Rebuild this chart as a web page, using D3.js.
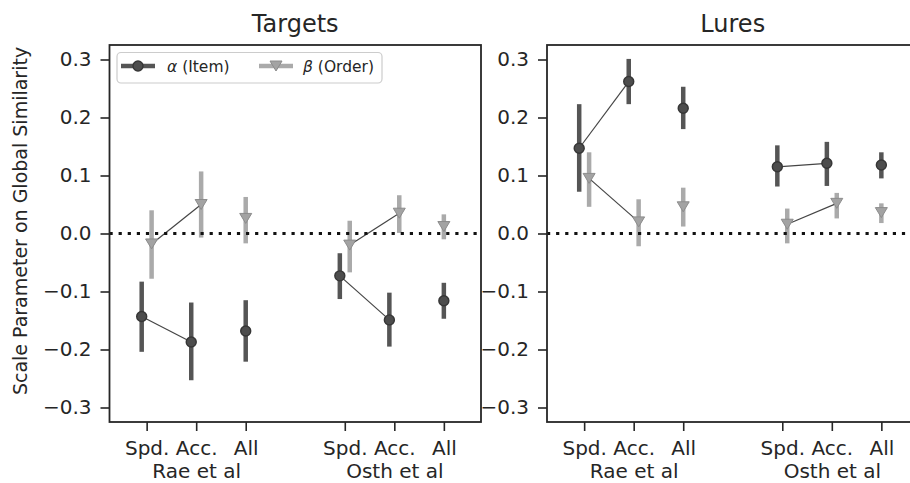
<!DOCTYPE html>
<html>
<head>
<meta charset="utf-8">
<script src="https://cdn.jsdelivr.net/npm/d3@7"></script>
<style>
  body { margin: 0; background: #ffffff; }
  svg { display: block; font-family: "DejaVu Sans", sans-serif; }
</style>
</head>
<body>
<svg id="chart" width="910" height="483"></svg>
<script>
// ---- data ---------------------------------------------------------------
const panelTitles = ["Targets", "Lures"];
const studies = ["Rae et al", "Osth et al"];
const conditions = ["Spd.", "Acc.", "All"];
const yTicks = [-0.3, -0.2, -0.1, 0.0, 0.1, 0.2, 0.3];
const seriesSymbols = ["α", "β"];
const seriesNames = ["(Item)", "(Order)"];

// order of cells: Rae Spd, Rae Acc, Rae All, Osth Spd, Osth Acc, Osth All
const targetsItemMean  = [-0.143, -0.187, -0.168, -0.073, -0.149, -0.116];
const targetsItemLow   = [-0.204, -0.253, -0.221, -0.113, -0.195, -0.147];
const targetsItemHigh  = [-0.083, -0.119, -0.115, -0.034, -0.102, -0.085];
const targetsOrderMean = [-0.018,  0.050,  0.026, -0.020,  0.035,  0.012];
const targetsOrderLow  = [-0.078, -0.007, -0.017, -0.067,  0.001, -0.010];
const targetsOrderHigh = [ 0.040,  0.107,  0.063,  0.022,  0.066,  0.033];

const luresItemMean  = [0.147, 0.262, 0.216, 0.115, 0.121, 0.118];
const luresItemLow   = [0.072, 0.223, 0.180, 0.081, 0.082, 0.095];
const luresItemHigh  = [0.223, 0.301, 0.253, 0.152, 0.158, 0.140];
const luresOrderMean = [0.095, 0.020, 0.046, 0.016, 0.052, 0.036];
const luresOrderLow  = [0.046, -0.022, 0.012, -0.017, 0.026, 0.018];
const luresOrderHigh = [0.140, 0.059, 0.079, 0.043, 0.070, 0.052];

// ---- layout -------------------------------------------------------------
const svg = d3.select("#chart");
const W = 910, H = 483;
svg.append("rect").attr("width", W).attr("height", H).attr("fill", "#ffffff");

const ink = "#262626";
const plotTop = 45, plotBottom = 422, plotWidth = 371.5;
const panelLefts = [109.5, 547];
const itemColor = "#555555", orderColor = "#aaaaaa";

function cells(mean, low, high) {
  const out = [];
  studies.forEach((s, si) => conditions.forEach((c, ci) => {
    const k = si * conditions.length + ci;
    out.push({ study: si, cond: ci, pos: si * 4 + ci, mean: mean[k], low: low[k], high: high[k] });
  }));
  return out;
}

const panels = [
  { title: panelTitles[0],
    series: [cells(targetsItemMean, targetsItemLow, targetsItemHigh),
             cells(targetsOrderMean, targetsOrderLow, targetsOrderHigh)] },
  { title: panelTitles[1],
    series: [cells(luresItemMean, luresItemLow, luresItemHigh),
             cells(luresOrderMean, luresOrderLow, luresOrderHigh)] }
];

const y = d3.scaleLinear().domain([-0.325, 0.325]).range([plotBottom, plotTop]);
const fmt = d3.format(".1f");
const tickPositions = [];
studies.forEach((s, si) => conditions.forEach((c, ci) => tickPositions.push(si * 4 + ci)));

function downTriangle(cx, cy, w, h) {
  return `M${cx - w / 2},${cy - h / 2}L${cx + w / 2},${cy - h / 2}L${cx},${cy + h / 2}Z`;
}

panels.forEach((p, pi) => {
  const left = panelLefts[pi];
  const x = d3.scaleLinear().domain([-0.75, 6.75]).range([left, left + plotWidth]);
  const g = svg.append("g");

  // y axis
  const ya = g.append("g").attr("transform", `translate(${left},0)`)
    .call(d3.axisLeft(y).tickValues(yTicks).tickFormat(fmt).tickSize(9).tickPadding(9));
  ya.select(".domain").remove();
  ya.selectAll(".tick line").attr("stroke", ink).attr("stroke-width", 1.6);
  ya.selectAll(".tick text").attr("fill", ink).attr("font-size", 20)
    .attr("font-family", "DejaVu Sans");

  // x axis with two-line labels (study name under the middle condition)
  const xa = g.append("g").attr("transform", `translate(0,${plotBottom})`)
    .call(d3.axisBottom(x).tickValues(tickPositions).tickFormat(() => "").tickSize(9).tickPadding(10));
  xa.select(".domain").remove();
  xa.selectAll(".tick line").attr("stroke", ink).attr("stroke-width", 1.6);
  xa.selectAll(".tick text").each(function (d, i) {
    const t = d3.select(this).attr("fill", ink).attr("font-size", 20)
      .attr("font-family", "DejaVu Sans");
    const ci = i % conditions.length, si = Math.floor(i / conditions.length);
    t.append("tspan").attr("x", 0).text(conditions[ci]);
    if (ci === 1) t.append("tspan").attr("x", 0).attr("dy", "1.14em").text(studies[si]);
  });

  // series: error bars, connecting lines (Spd.–Acc.), markers
  p.series.forEach((data, k) => {
    const color = k === 0 ? itemColor : orderColor;
    const dodge = k === 0 ? -0.1 : 0.1;
    const px = d => x(d.pos + (d.cond < 2 ? dodge : 0));

    g.append("g").selectAll("line").data(data).join("line")
      .attr("x1", px).attr("x2", px)
      .attr("y1", d => y(d.low)).attr("y2", d => y(d.high))
      .attr("stroke", color).attr("stroke-width", 4.5);

    studies.forEach((s, si) => {
      const pair = data.filter(d => d.study === si && d.cond < 2);
      g.append("path").datum(pair)
        .attr("d", d3.line().x(px).y(d => y(d.mean)))
        .attr("fill", "none").attr("stroke", "#454545").attr("stroke-width", 1.2);
    });

    if (k === 0) {
      g.append("g").selectAll("circle").data(data).join("circle")
        .attr("cx", px).attr("cy", d => y(d.mean)).attr("r", 5)
        .attr("fill", "#4d4d4d").attr("stroke", "#363636").attr("stroke-width", 1.4);
    } else {
      g.append("g").selectAll("path").data(data).join("path")
        .attr("d", d => downTriangle(px(d), y(d.mean), 12, 10))
        .attr("fill", "#a3a3a3").attr("stroke", "#8c8c8c").attr("stroke-width", 1);
    }
  });

  // zero reference line
  g.append("line")
    .attr("x1", left).attr("x2", left + plotWidth)
    .attr("y1", y(0)).attr("y2", y(0))
    .attr("stroke", "#111111").attr("stroke-width", 3.2)
    .attr("stroke-dasharray", "3.2,5.9");

  // frame
  g.append("rect")
    .attr("x", left).attr("y", plotTop)
    .attr("width", plotWidth).attr("height", plotBottom - plotTop)
    .attr("fill", "none").attr("stroke", ink).attr("stroke-width", 1.8);

  // title
  g.append("text")
    .attr("x", left + plotWidth / 2).attr("y", 32)
    .attr("text-anchor", "middle").attr("font-size", 24).attr("fill", ink)
    .text(p.title);
});

// y label
svg.append("text")
  .attr("transform", `translate(27,221) rotate(-90)`)
  .attr("text-anchor", "middle").attr("font-size", 19).attr("fill", ink)
  .text("Scale Parameter on Global Similarity");

// legend
const lg = svg.append("g");
lg.append("rect").attr("x", 117).attr("y", 52.5).attr("width", 265).attr("height", 30.5)
  .attr("rx", 4).attr("fill", "#ffffff").attr("fill-opacity", 0.8)
  .attr("stroke", "#cccccc").attr("stroke-width", 1.2);
const legendItems = [
  { x0: 121, color: itemColor, tx: 167 },
  { x0: 259, color: orderColor, tx: 303 }
];
legendItems.forEach((it, k) => {
  const cy = 66;
  lg.append("line").attr("x1", it.x0).attr("x2", it.x0 + 34).attr("y1", cy).attr("y2", cy)
    .attr("stroke", it.color).attr("stroke-width", 4.5);
  if (k === 0) {
    lg.append("circle").attr("cx", it.x0 + 17).attr("cy", cy).attr("r", 5)
      .attr("fill", "#4d4d4d").attr("stroke", "#363636").attr("stroke-width", 1.4);
  } else {
    lg.append("path").attr("d", downTriangle(it.x0 + 17, cy, 12, 10))
      .attr("fill", "#a3a3a3").attr("stroke", "#8c8c8c").attr("stroke-width", 1);
  }
  const t = lg.append("text").attr("x", it.tx).attr("y", cy + 5.5)
    .attr("font-size", 15.5).attr("fill", ink);
  t.append("tspan").attr("font-style", "italic").text(seriesSymbols[k]);
  t.append("tspan").text(" " + seriesNames[k]);
});
</script>
</body>
</html>
